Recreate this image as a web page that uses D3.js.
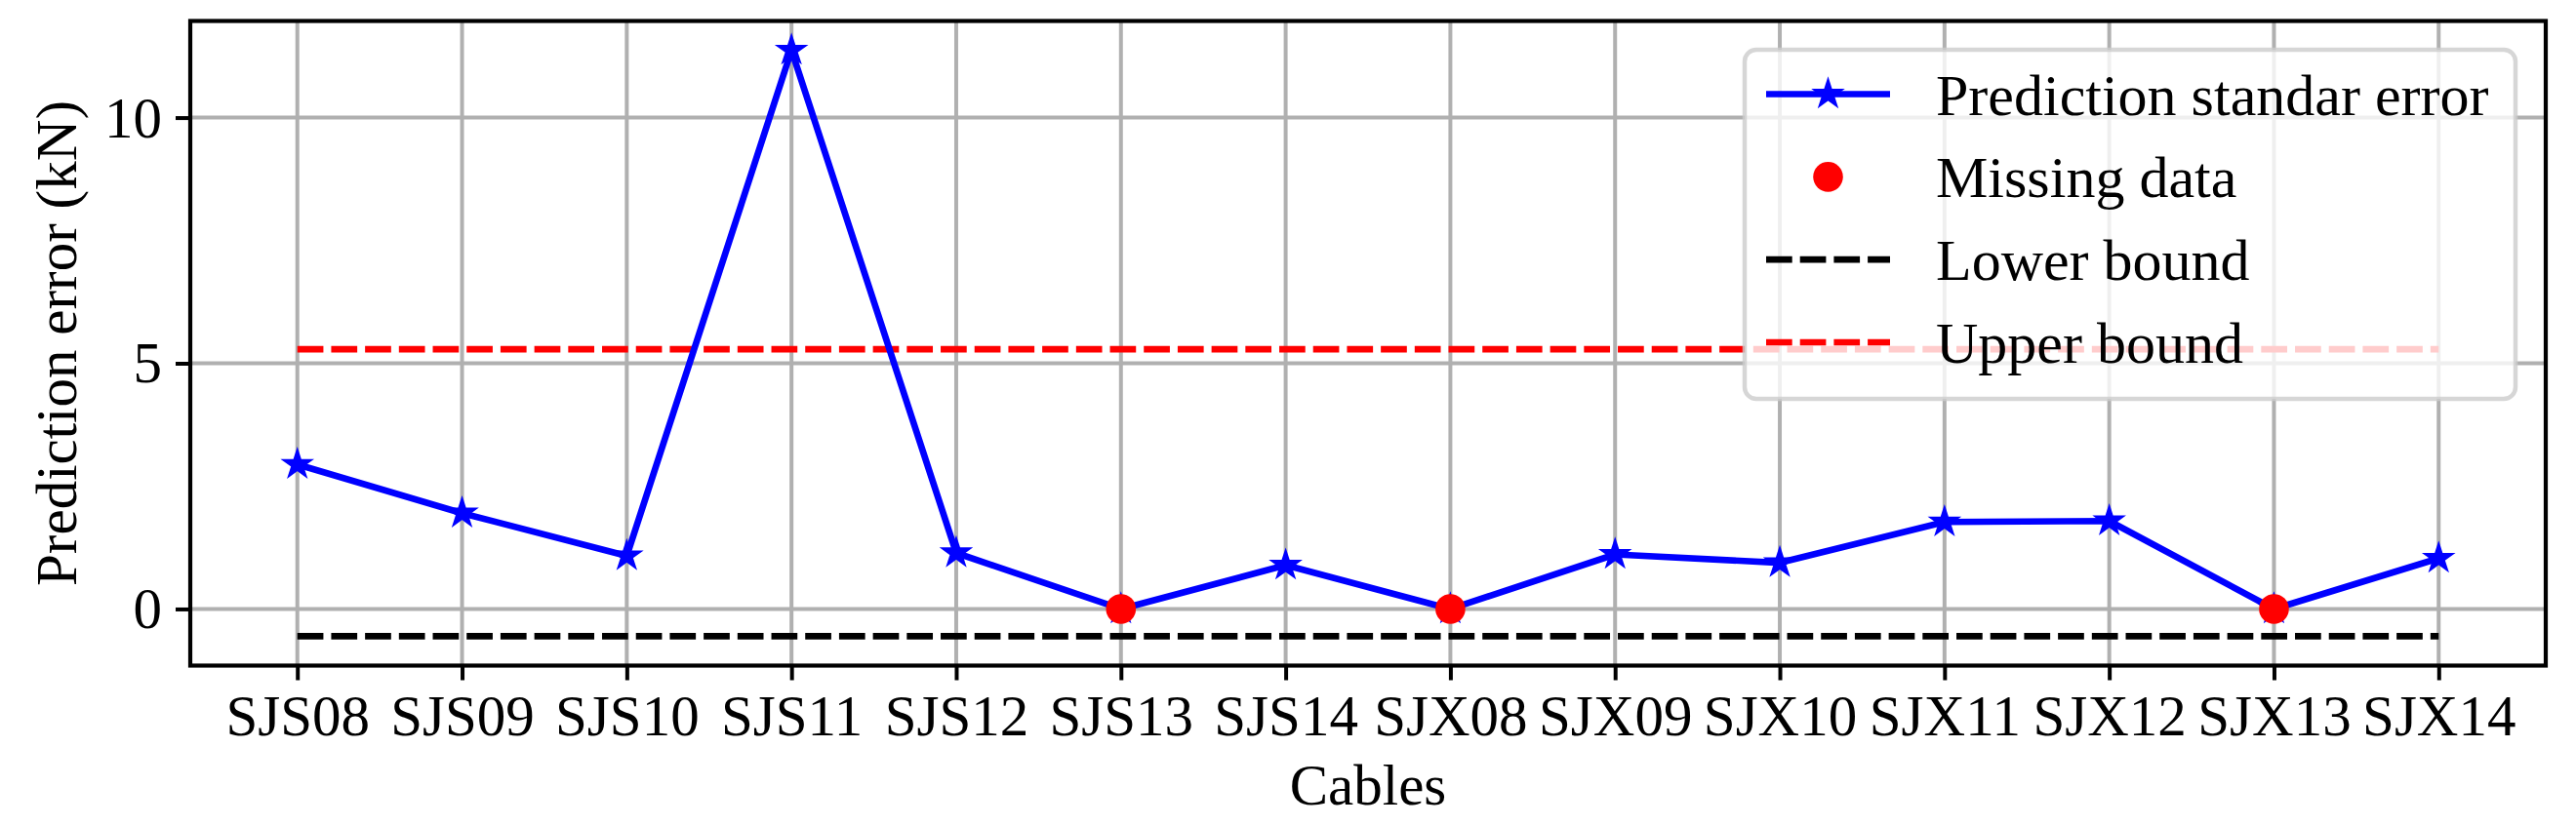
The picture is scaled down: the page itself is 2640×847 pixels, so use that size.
<!DOCTYPE html>
<html>
<head>
<meta charset="utf-8">
<script src="https://cdn.jsdelivr.net/npm/d3@7"></script>
<style>
  html, body { margin: 0; padding: 0; background: #fff; }
  svg { display: block; }
  text { font-family: "Liberation Serif", "Times New Roman", serif; fill: #000; }
</style>
</head>
<body>
<script>
// ---- data ----
const cables = ["SJS08","SJS09","SJS10","SJS11","SJS12","SJS13","SJS14","SJX08","SJX09","SJX10","SJX11","SJX12","SJX13","SJX14"];
const predErrors = [2.94, 1.95, 1.08, 11.37, 1.14, 0, 0.89, 0, 1.11, 0.94, 1.77, 1.79, 0, 1.03];
const missingCables = ["SJS13","SJX08","SJX13"];
const missingValues = [0, 0, 0];
const lowerBound = -0.556;
const upperBound = 5.286;
const yTicks = [0, 5, 10];
const legendLabels = ["Prediction standar error", "Missing data", "Lower bound", "Upper bound"];

// ---- layout ----
const W = 2640, H = 847;
const plot = { left: 195, right: 2609, top: 21.5, bottom: 682.5 };
const fontSize = 59;

const svg = d3.select("body").append("svg").attr("width", W).attr("height", H);

const idx = cables.map((d, i) => i);
const x = d3.scaleLinear().domain([-0.65, cables.length - 1 + 0.65]).range([plot.left, plot.right]);
const yMin = d3.min([lowerBound, d3.min(predErrors)]);
const yMax = d3.max([upperBound, d3.max(predErrors)]);
const pad = (yMax - yMin) * 0.05;
const y = d3.scaleLinear().domain([yMin - pad, yMax + pad]).range([plot.bottom, plot.top]);

const gridColor = "#b0b0b0";
// grid
const grid = svg.append("g");
grid.selectAll("line.vg").data(idx).join("line")
  .attr("x1", d => x(d)).attr("x2", d => x(d))
  .attr("y1", plot.top).attr("y2", plot.bottom)
  .attr("stroke", gridColor).attr("stroke-width", 4);
grid.selectAll("line.hg").data(yTicks).join("line")
  .attr("x1", plot.left).attr("x2", plot.right)
  .attr("y1", d => y(d)).attr("y2", d => y(d))
  .attr("stroke", gridColor).attr("stroke-width", 4);

// bounds
const dash = "26.7,8";
svg.append("line")
  .attr("x1", x(0)).attr("x2", x(cables.length - 1))
  .attr("y1", y(lowerBound)).attr("y2", y(lowerBound))
  .attr("stroke", "#000").attr("stroke-width", 6.7).attr("stroke-dasharray", dash);
svg.append("line")
  .attr("x1", x(0)).attr("x2", x(cables.length - 1))
  .attr("y1", y(upperBound)).attr("y2", y(upperBound))
  .attr("stroke", "#ff0000").attr("stroke-width", 6.7).attr("stroke-dasharray", dash);

// main line
const line = d3.line().x((d, i) => x(i)).y(d => y(d));
svg.append("path").datum(predErrors)
  .attr("d", line).attr("fill", "none")
  .attr("stroke", "#0000ff").attr("stroke-width", 6.7).attr("stroke-linejoin", "round");

const star = d3.symbol().type(d3.symbolStar).size(200);
svg.append("g").selectAll("path").data(predErrors).join("path")
  .attr("d", star)
  .attr("transform", (d, i) => `translate(${x(i)},${y(d)})`)
  .attr("fill", "#0000ff").attr("stroke", "#0000ff").attr("stroke-width", 3);

// missing data
svg.append("g").selectAll("circle").data(missingCables).join("circle")
  .attr("cx", d => x(cables.indexOf(d)))
  .attr("cy", (d, i) => y(missingValues[i]))
  .attr("r", 15.3)
  .attr("fill", "#ff0000");

// spines
svg.append("rect")
  .attr("x", plot.left).attr("y", plot.top)
  .attr("width", plot.right - plot.left).attr("height", plot.bottom - plot.top)
  .attr("fill", "none").attr("stroke", "#000").attr("stroke-width", 4.2);

// x axis
const xAxis = svg.append("g").attr("transform", `translate(0,${plot.bottom})`)
  .call(d3.axisBottom(x).tickValues(idx).tickFormat(i => cables[i]).tickSize(15).tickPadding(14));
xAxis.select(".domain").remove();
xAxis.selectAll(".tick line").attr("stroke", "#000").attr("stroke-width", 4);
xAxis.selectAll(".tick text")
  .attr("font-size", fontSize).attr("font-family", "Liberation Serif, Times New Roman, serif")
  .attr("dy", "0.72em").attr("fill", "#000");

// y axis
const yAxis = svg.append("g").attr("transform", `translate(${plot.left},0)`)
  .call(d3.axisLeft(y).tickValues(yTicks).tickFormat(d3.format("d")).tickSize(15).tickPadding(14));
yAxis.select(".domain").remove();
yAxis.selectAll(".tick line").attr("stroke", "#000").attr("stroke-width", 4);
yAxis.selectAll(".tick text")
  .attr("font-size", fontSize).attr("font-family", "Liberation Serif, Times New Roman, serif")
  .attr("dy", "0.33em").attr("fill", "#000");

// axis labels
svg.append("text")
  .attr("x", (plot.left + plot.right) / 2).attr("y", 825)
  .attr("text-anchor", "middle").attr("font-size", fontSize)
  .text("Cables");
svg.append("text")
  .attr("transform", `translate(78,${(plot.top + plot.bottom) / 2}) rotate(-90)`)
  .attr("text-anchor", "middle").attr("font-size", fontSize)
  .text("Prediction error (kN)");

// legend
const lg = { x: 1788, y: 51, w: 790, h: 358 };
const leg = svg.append("g");
leg.append("rect")
  .attr("x", lg.x).attr("y", lg.y).attr("width", lg.w).attr("height", lg.h)
  .attr("rx", 12).attr("ry", 12)
  .attr("fill", "#ffffff").attr("fill-opacity", 0.8)
  .attr("stroke", "#cccccc").attr("stroke-opacity", 0.8).attr("stroke-width", 4.5);

const rowY = d3.scaleLinear().domain([0, 3]).range([96.5, 351]);
const hx1 = 1810, hx2 = 1937, hxm = (hx1 + hx2) / 2, tx = 1984;
const rows = leg.selectAll("g.row").data(legendLabels).join("g")
  .attr("transform", (d, i) => `translate(0,${rowY(i)})`);
rows.append("text").attr("x", tx).attr("y", 0).attr("dy", "0.35em")
  .attr("font-size", fontSize + 1).text(d => d);

const r0 = rows.filter((d, i) => i === 0);
r0.append("line").attr("x1", hx1).attr("x2", hx2).attr("stroke", "#0000ff").attr("stroke-width", 6.7);
r0.append("path").attr("d", star).attr("transform", `translate(${hxm},0)`)
  .attr("fill", "#0000ff").attr("stroke", "#0000ff").attr("stroke-width", 3);
rows.filter((d, i) => i === 1).append("circle").attr("cx", hxm).attr("r", 15.3).attr("fill", "#ff0000");
rows.filter((d, i) => i === 2).append("line").attr("x1", hx1).attr("x2", hx2)
  .attr("stroke", "#000").attr("stroke-width", 6.7).attr("stroke-dasharray", dash);
rows.filter((d, i) => i === 3).append("line").attr("x1", hx1).attr("x2", hx2)
  .attr("stroke", "#ff0000").attr("stroke-width", 6.7).attr("stroke-dasharray", dash);
</script>
</body>
</html>
